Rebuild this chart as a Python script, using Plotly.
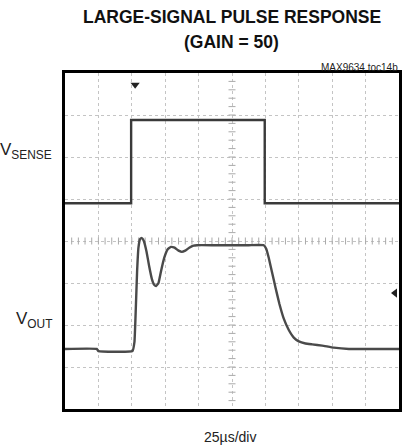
import plotly.graph_objects as go

# time in divisions (25 us/div), amplitude in graticule divisions
vsense_t = [0, 1.98, 1.98, 5.98, 5.98, 10]
vsense_y = [4.9, 4.9, 6.88, 6.88, 4.9, 4.9]

vout_t = [0, 0.95, 1.0, 2.02, 2.08, 2.12, 2.16, 2.2, 2.25, 2.3, 2.36, 2.44, 2.52, 2.6, 2.67, 2.73,
          2.8, 2.88, 2.97, 3.07, 3.17, 3.28, 3.4, 3.5, 3.6, 3.72, 3.85, 3.95, 4.5, 5.5, 5.95,
          6.02, 6.1, 6.2, 6.3, 6.42, 6.55, 6.7, 6.85, 7.0, 7.2, 7.4, 7.7, 8.05, 8.5, 10]
vout_y = [1.43, 1.43, 1.38, 1.38, 1.6, 2.4, 3.3, 3.85, 4.05, 4.07, 4.0, 3.75, 3.4, 3.1, 2.96, 2.93,
          3.0, 3.3, 3.6, 3.8, 3.86, 3.84, 3.77, 3.74, 3.77, 3.84, 3.89, 3.9, 3.9, 3.9, 3.9,
          3.82, 3.6, 3.25, 2.9, 2.5, 2.15, 1.88, 1.7, 1.61, 1.56, 1.54, 1.51, 1.46, 1.43, 1.43]

trig_x = [2.1]
trig_y = [7.72]
ref_x = [9.88]
ref_y = [2.76]

title_lines = ["LARGE-SIGNAL PULSE RESPONSE", "(GAIN = 50)"]
note_text = "MAX9634 toc14b"
x_label = "25µs/div"
ch_labels = ["V<sub>SENSE</sub>", "V<sub>OUT</sub>"]
ch_label_y = [6.15, 2.12]

FONT = "Liberation Sans, Arial, sans-serif"

fig = go.Figure()

# minor graticule ticks along center lines
minor = [i / 5 for i in range(1, 50)]
fig.add_trace(go.Scatter(x=minor, y=[4] * len(minor), mode="markers",
                         marker=dict(symbol="line-ns", size=5, line=dict(width=1, color="#aaa")),
                         hoverinfo="skip", showlegend=False))
minor_y = [i / 5 for i in range(1, 40)]
fig.add_trace(go.Scatter(x=[5] * len(minor_y), y=minor_y, mode="markers",
                         marker=dict(symbol="line-ew", size=5, line=dict(width=1, color="#aaa")),
                         hoverinfo="skip", showlegend=False))

fig.add_trace(go.Scatter(x=vsense_t, y=vsense_y, mode="lines",
                         line=dict(color="#3a3a3a", width=2.4), showlegend=False))
fig.add_trace(go.Scatter(x=vout_t, y=vout_y, mode="lines",
                         line=dict(color="#4a4a4a", width=2.4, shape="spline", smoothing=0.3),
                         showlegend=False))
fig.add_trace(go.Scatter(x=trig_x, y=trig_y, mode="markers",
                         marker=dict(symbol="triangle-down", size=8, color="#222"),
                         showlegend=False))
fig.add_trace(go.Scatter(x=ref_x, y=ref_y, mode="markers",
                         marker=dict(symbol="triangle-left", size=8, color="#222"),
                         showlegend=False))

axis_common = dict(showline=True, linecolor="black", linewidth=3, mirror=True,
                   showticklabels=False, ticks="", zeroline=False,
                   showgrid=True, gridcolor="#c4c4c4", griddash="dot", gridwidth=1)
fig.update_xaxes(range=[0, 10], dtick=1, tick0=0, **axis_common)
fig.update_yaxes(range=[0, 8], dtick=1, tick0=0, **axis_common)

LEFT, RIGHT, TOP, BOTTOM = 65, 402, 73, 409


def px_y(py):
    return (BOTTOM - py) / (BOTTOM - TOP)


def px_x(px):
    return (px - LEFT) / (RIGHT - LEFT)


fig.add_annotation(text="<b>" + title_lines[0] + "</b>", xref="paper", yref="paper",
                   x=px_x(233), y=px_y(17), xanchor="center", yanchor="middle", showarrow=False,
                   font=dict(family=FONT, size=17.5, color="#111"))
fig.add_annotation(text="<b>" + title_lines[1] + "</b>", xref="paper", yref="paper",
                   x=px_x(233), y=px_y(42), xanchor="center", yanchor="middle", showarrow=False,
                   font=dict(family=FONT, size=17.5, color="#111"))
fig.add_annotation(text=note_text, xref="paper", yref="paper",
                   x=px_x(403), y=px_y(67), xanchor="right", yanchor="middle", showarrow=False,
                   font=dict(family=FONT, size=10, color="#222"))
fig.add_annotation(text=x_label, xref="paper", yref="paper",
                   x=px_x(231), y=px_y(437), xanchor="center", yanchor="middle", showarrow=False,
                   font=dict(family=FONT, size=14, color="#222"))
for lab, ly in zip(ch_labels, ch_label_y):
    fig.add_annotation(text=lab, xref="paper", yref="y",
                       x=px_x(54), y=ly, xanchor="right", yanchor="middle", showarrow=False,
                       font=dict(family=FONT, size=17, color="#222"))

fig.update_layout(width=409, height=448, margin=dict(l=LEFT, r=409 - RIGHT, t=TOP, b=448 - BOTTOM),
                  plot_bgcolor="white", paper_bgcolor="white")

fig.write_html("out.html", config={"displayModeBar": False},
               post_script="document.body.style.margin='0';")
